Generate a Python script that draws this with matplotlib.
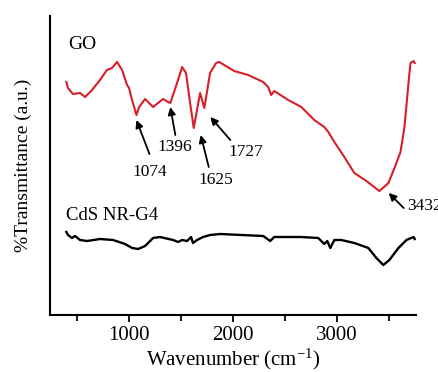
import numpy as np
import matplotlib
matplotlib.use("Agg")
import matplotlib.pyplot as plt
from matplotlib.transforms import offset_copy

plt.rcParams['font.family'] = ['Liberation Serif', 'DejaVu Serif']
plt.rcParams['mathtext.fontset'] = 'custom'
plt.rcParams['mathtext.rm'] = 'Liberation Serif'
plt.rcParams['mathtext.it'] = 'Liberation Serif'

# GO spectrum (wavenumber, transmittance a.u.)
go_wn = [400, 416, 464, 532, 580, 647, 724, 791, 839, 888, 936, 984, 1003, 1032,
         1074, 1100, 1157, 1234, 1282, 1330, 1378, 1400, 1474, 1513, 1551, 1590,
         1625, 1686, 1727, 1782, 1840, 1870, 2014, 2148, 2293, 2341, 2370, 2399,
         2534, 2659, 2784, 2880, 2919, 2977, 3073, 3169, 3285, 3410, 3497, 3555,
         3613, 3651, 3690, 3709, 3738, 3750]
go_t = [233, 227, 221, 222, 218, 225, 235, 245, 247, 253, 245, 230, 227, 215,
        200, 208, 216, 208, 212, 216, 213, 212, 235, 248, 242, 212,
        187, 222, 207, 242, 252, 253, 244, 240, 233, 228, 220, 224,
        215, 208, 195, 188, 183, 173, 158, 142, 134, 124, 132, 147,
        163, 188, 232, 252, 254, 252]

# CdS NR-G4 spectrum
cds_wn = [400, 416, 454, 483, 532, 599, 724, 849, 965, 1032, 1090, 1157, 1234,
          1301, 1426, 1474, 1513, 1561, 1599, 1618, 1657, 1715, 1782, 1878,
          2293, 2360, 2399, 2659, 2822, 2880, 2909, 2938, 2977, 3044, 3169,
          3304, 3381, 3448, 3506, 3593, 3670, 3738, 3750]
cds_t = [83, 80, 77, 79, 75, 74, 76, 75, 71, 67, 66, 69, 77,
         78, 75, 73, 75, 74, 78, 72, 75, 78, 80, 81,
         79, 74, 78, 78, 77, 71, 74, 67, 75, 75, 72,
         67, 57, 50, 55, 67, 75, 78, 76]

# peak labels: (label, wavenumber)
peak_labels = ['1074', '1396', '1625', '1727', '3432']
peak_wn = [1074, 1400, 1625, 1727, 3432]
# offsets in pixels relative to the curve point: arrow head, arrow tail, text
head_off = [(0, -5), (0, -4), (7, -7), (6, -9), (7, -4)]
tail_off = [(13, -39), (5, -32), (15, -39), (26, -32), (22, -19)]
text_off = [(13, -57), (4, -44), (22, -52), (41, -44), (26, -17)]
text_ha = ['center', 'center', 'center', 'center', 'left']

fig = plt.figure(figsize=(4.38, 3.72), dpi=100)
ax = fig.add_axes([50/438, 1-315/372, 366/438, 299/372])

ax.plot(go_wn, go_t, color='#d81e28', lw=1.5)
ax.plot(cds_wn, cds_t, color='black', lw=1.7)

ax.set_xlim(243, 3762)
ax.set_ylim(0, 299)

for lab, wn, h, t, tx, ha in zip(peak_labels, peak_wn, head_off, tail_off, text_off, text_ha):
    y = np.interp(wn, go_wn, go_t)
    head_tr = offset_copy(ax.transData, fig=fig, x=h[0], y=h[1], units='dots')
    tail_tr = offset_copy(ax.transData, fig=fig, x=t[0], y=t[1], units='dots')
    ax.annotate('', xy=(wn, y), xycoords=head_tr,
                xytext=(wn, y), textcoords=tail_tr,
                arrowprops=dict(arrowstyle='-|>', color='black', lw=1.3,
                                mutation_scale=11, shrinkA=0, shrinkB=0))
    ax.annotate(lab, xy=(wn, y), xytext=tx, textcoords='offset pixels',
                ha=ha, va='center', fontsize=12.5, annotation_clip=False)

ax.text(0.05, 0.905, 'GO', transform=ax.transAxes, fontsize=14, va='center', ha='left')
ax.text(0.044, 0.334, 'CdS NR-G4', transform=ax.transAxes, fontsize=13.5, va='center', ha='left')

for s in ['top', 'right']:
    ax.spines[s].set_visible(False)
for s in ['left', 'bottom']:
    ax.spines[s].set_linewidth(1.5)

ax.set_xticks([1000, 2000, 3000])
ax.set_xticks([500, 1500, 2500, 3500], minor=True)
ax.tick_params(axis='x', which='major', direction='out', length=5, width=1.3, labelsize=15, pad=3)
ax.tick_params(axis='x', which='minor', direction='out', length=4, width=1.3)
ax.set_yticks([])

ax.set_xlabel('Wavenumber (cm$^{\\mathregular{-1}}$)', fontsize=15, labelpad=1)
ax.set_ylabel('%Transmittance (a.u.)', fontsize=14, labelpad=13)

fig.savefig('out.png', dpi=100)
